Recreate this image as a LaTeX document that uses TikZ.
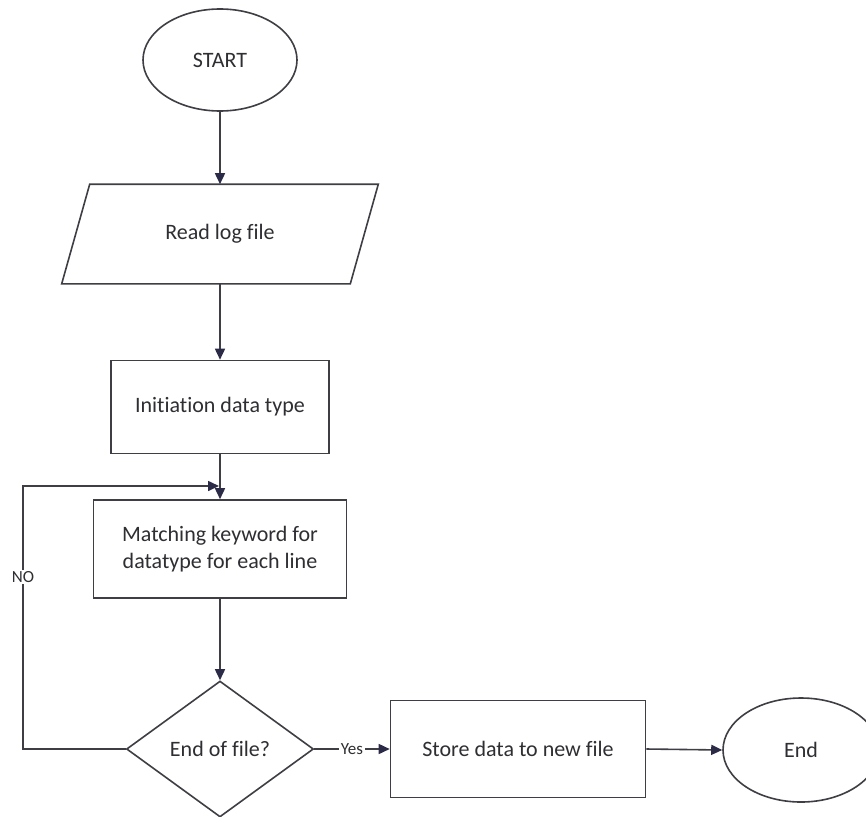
\documentclass[tikz,border=0pt]{standalone}
\usepackage{fontspec}
\setmainfont{Carlito}[Ligatures=NoCommon]
\usetikzlibrary{shapes.geometric,arrows.meta}
\definecolor{edge}{HTML}{3E3E44}
\definecolor{tip}{HTML}{2B2B48}
\definecolor{txt}{HTML}{2E2E33}
\tikzset{
  box/.style={draw=edge, line width=1.6pt, fill=white, text=txt, inner sep=0pt,
    font=\fontsize{22}{27}\selectfont, align=center},
  outline/.style={draw=edge, line width=1.6pt, line join=miter},
  terminal/.style={box, ellipse},
  iobox/.style={box, rectangle, draw=none, fill=none},
  procbox/.style={box, rectangle},
  decision/.style={box, diamond},
  flow/.style={draw=edge, line width=1.6pt, -{Triangle[length=11pt,width=10pt,color=tip]}},
  lab/.style={fill=white, text=txt, inner sep=1.5pt, font=\fontsize{17}{20}\selectfont}
}
\begin{document}
\begin{tikzpicture}[x=1pt,y=-1pt]
\useasboundingbox (0,0) rectangle (866,816);

\node[terminal, minimum width=154, minimum height=102] (start) at (220,60) {START};
\node[iobox, minimum width=315, minimum height=98] (read) at (220,234) {Read log file};
% slanted input/output outline around the read node
\draw[outline] ([xshift=28pt]read.north west) -- (read.north east)
  -- ([xshift=-28pt]read.south east) -- (read.south west) -- cycle;
\node[procbox, minimum width=218, minimum height=93] (init) at (220,407) {Initiation data type};
\node[procbox, minimum width=253, minimum height=98] (match) at (220,549)
  {Matching keyword for\\datatype for each line};
\node[decision, minimum width=187, minimum height=136] (eof) at (220,749) {End of file?};
\node[procbox, minimum width=255, minimum height=97] (store) at (518,749) {Store data to new file};
\node[terminal, minimum width=156, minimum height=104] (end) at (801,750) {End};

\coordinate (loopc) at (23,486);
\coordinate (merge) at (219,486);

\draw[flow] (start) -- (read.north);
\draw[flow] (read.south) -- (init);
\draw[flow] (init) -- (match);
\draw[flow] (match) -- (eof);
\draw[flow] (eof.west) -| (loopc) -- (merge);
\node[lab] (no) at (23,577) {NO};
\draw[flow] (eof.east) -- node[lab] (yes) {Yes} (store.west);
\draw[flow] (store.east) -- (end.west);
\end{tikzpicture}
\end{document}
